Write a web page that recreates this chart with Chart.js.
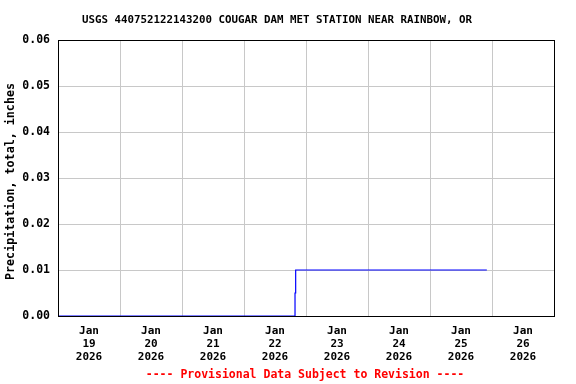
<!DOCTYPE html>
<html><head><meta charset="utf-8">
<script src="https://cdn.jsdelivr.net/npm/chart.js@4"></script>
<style>html,body{margin:0;padding:0;background:#fff}#wrap{width:576px;height:384px}</style>
</head><body><div id="wrap"><canvas id="c" width="576" height="384"></canvas></div>
<script>
// Hours since Jan 19 2026 00:00 (local) and precipitation, inches
const hours = [0, 91.75, 92.0, 92.5, 166.0];
const precip = [0, 0, 0.005, 0.01, 0.01];
const dayLabels = [['Jan','19','2026'],['Jan','20','2026'],['Jan','21','2026'],['Jan','22','2026'],['Jan','23','2026'],['Jan','24','2026'],['Jan','25','2026'],['Jan','26','2026']];
const yTicks = [0, 0.01, 0.02, 0.03, 0.04, 0.05, 0.06];
const titleText = 'USGS 440752122143200 COUGAR DAM MET STATION NEAR RAINBOW, OR';
const footerText = '---- Provisional Data Subject to Revision ----';
const yTitle = 'Precipitation, total, inches';

const FONT = "'DejaVu Sans Mono', 'Liberation Mono', monospace";
const frame = {
  id: 'frame',
  afterDraw(chart) {
    const {ctx, chartArea: a} = chart;
    ctx.save();
    ctx.strokeStyle = '#000'; ctx.lineWidth = 1;
    ctx.strokeRect(a.left + 0.5, a.top + 0.5, a.right - a.left, a.bottom - a.top);
    ctx.fillStyle = '#000';
    ctx.font = 'bold 10.8px ' + FONT;
    ctx.textAlign = 'center'; ctx.textBaseline = 'middle';
    ctx.fillText(titleText, 277, 20);
    ctx.save();
    ctx.translate(11, 181.5);
    ctx.rotate(-Math.PI / 2);
    ctx.font = 'bold 11.7px ' + FONT;
    ctx.fillText(yTitle, 0, 0);
    ctx.restore();
    ctx.fillStyle = '#ff0000';
    ctx.font = 'bold 11.5px ' + FONT;
    ctx.fillText(footerText, 305, 375);
    ctx.restore();
  }
};
const data = hours.map((h, i) => ({x: h, y: precip[i]}));
new Chart(document.getElementById('c'), {
  type: 'line',
  data: { datasets: [{ data, borderColor: '#0000ff', borderWidth: 1.2, pointRadius: 0, stepped: 'after', fill: false }] },
  options: {
    responsive: false, animation: false,
    layout: { padding: { left: 0, top: 40, right: 22, bottom: 0 } },
    plugins: { legend: { display: false }, tooltip: { enabled: false } },
    scales: {
      x: {
        type: 'linear', min: 0, max: 192,
        afterBuildTicks(s) { const t = []; for (let v = 0; v <= 192; v += 12) t.push({value: v}); s.ticks = t; },
        afterFit(s) { s.height = 68; },
        grid: { drawTicks: false, color: c => (c.tick && c.tick.value % 24 === 0) ? '#c8c8c8' : 'rgba(0,0,0,0)' },
        border: { color: '#000' },
        ticks: {
          autoSkip: false, maxRotation: 0, padding: 9, color: '#000',
          font: { family: FONT, weight: 'bold', size: 11, lineHeight: 1.18 },
          callback: v => (v % 24 === 12) ? dayLabels[(v - 12) / 24] : ''
        }
      },
      y: {
        min: 0, max: 0.06,
        afterBuildTicks(s) { s.ticks = yTicks.map(v => ({value: v})); },
        afterFit(s) { s.width = 58; },
        grid: { drawTicks: false, color: '#c8c8c8' },
        border: { color: '#000' },
        ticks: { padding: 8, color: '#000', font: { family: FONT, weight: 'bold', size: 11.5 }, callback: v => v.toFixed(2) }
      }
    }
  },
  plugins: [frame]
});
</script></body></html>
